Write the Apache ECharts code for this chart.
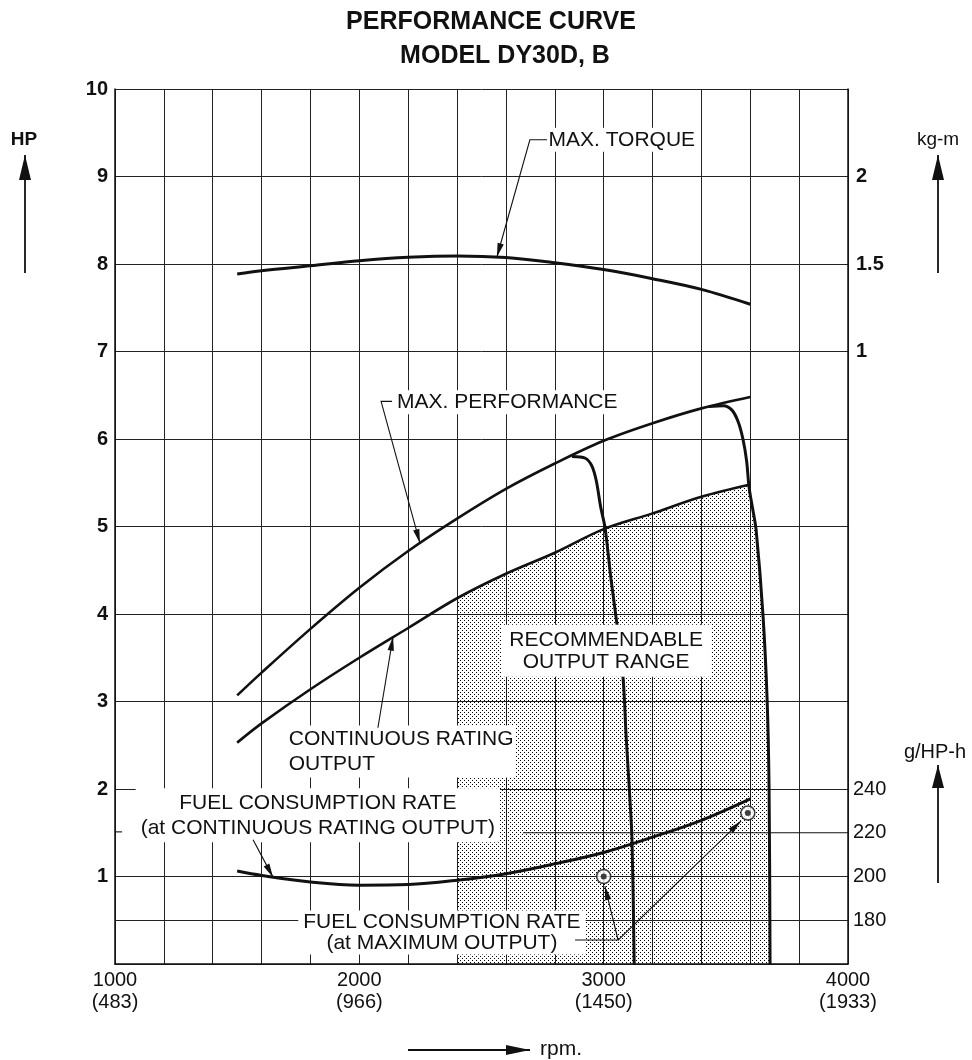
<!DOCTYPE html>
<html><head><meta charset="utf-8">
<script src="https://cdn.jsdelivr.net/npm/echarts@6/dist/echarts.min.js"></script>
<style>html,body{margin:0;padding:0;background:#fff}#c{width:972px;height:1060px}</style>
</head><body><div id="c"></div>
<script>
// ---------------- DATA ----------------
const rpm = [1500,1600,1800,2000,2200,2400,2600,2800,3000,3200,3400,3600];
const maxTorqueKgm = [1.443,1.462,1.49,1.518,1.538,1.546,1.537,1.507,1.468,1.416,1.355,1.27];
const maxPerfHP = [3.07,3.33,3.83,4.30,4.72,5.09,5.43,5.72,5.98,6.18,6.35,6.48];
const contHP = [2.53,2.75,3.14,3.50,3.84,4.18,4.46,4.70,4.97,5.15,5.34,5.48];
const fuelGHPh = [202.5,200.5,197.5,196.0,196.3,198.3,201.3,205.8,211.0,218.0,225.7,235.5];
const gov1Rpm = [2870,2925,2952,2970,2988,3006,3030,3055,3080,3092,3105,3116,3125];
const gov1HP  = [5.80,5.78,5.69,5.52,5.22,4.98,4.40,3.87,3.25,2.60,2.00,1.42,0];
const gov2Rpm = [3430,3490,3525,3550,3570,3585,3595,3610,3624,3652,3669,3677,3681];
const gov2HP  = [6.37,6.38,6.33,6.20,6.00,5.75,5.45,5.20,4.96,3.99,3.02,1.99,0];
const maxOutRpm = [3000,3590];
const maxOutG = [200,229];
const rangeStartRpm = 2400;
const xTickValues = [1000,2000,3000,4000];
const xTickSub = ['(483)','(966)','(1450)','(1933)'];
const hpTicks = [1,2,3,4,5,6,7,8,9,10];
const kgTicks = [1,1.5,2];
const gTicks = [180,200,220,240];

// ---------------- CHART ----------------
const chart = echarts.init(document.getElementById('c'));
const FF = '"Liberation Sans", Arial, Helvetica, sans-serif';
const INK = '#111';

const pc = document.createElement('canvas');
pc.width = 4; pc.height = 4;
const pg = pc.getContext('2d');
pg.fillStyle = '#000';
pg.fillRect(0,0,1,1); pg.fillRect(2,2,1,1);
const stipple = { image: pc, repeat: 'repeat' };

const zip = (a,b) => a.map((v,i)=>[v,b[i]]);
const near = (v, arr) => arr.some(t => Math.abs(t - v) < 1e-6);

// shaded "recommendable output range" polygon in data coords
function rangePolygon() {
  const pts = [];
  rpm.forEach((r,i)=>{ if (r >= rangeStartRpm) pts.push([r, contHP[i]]); });
  const topHP = pts[pts.length-1][1];
  gov2Rpm.forEach((r,i)=>{ if (gov2HP[i] < topHP) pts.push([r, gov2HP[i]]); });
  pts.push([rangeStartRpm, 0]);
  return pts;
}

const curveLine = (w) => ({ color: INK, width: w });

chart.setOption({
  animation: false,
  backgroundColor: '#fff',
  title: [
    { text: 'PERFORMANCE CURVE', left: 486, top: 5, textAlign: 'center',
      textStyle: { fontFamily: FF, fontWeight: 'bold', fontSize: 25, color: INK } },
    { text: 'MODEL DY30D, B', left: 500, top: 39, textAlign: 'center',
      textStyle: { fontFamily: FF, fontWeight: 'bold', fontSize: 25, color: INK } }
  ],
  grid: { left: 115, right: 124, top: 89, bottom: 96, containLabel: false, outerBoundsMode: 'none' },
  xAxis: {
    type: 'value', min: 1000, max: 4000, interval: 200,
    axisLine: { show: true, lineStyle: { color: INK, width: 1.5 } },
    axisTick: { show: false },
    splitLine: { show: true, lineStyle: { color: '#222', width: 1 } },
    axisLabel: {
      margin: 5, fontFamily: FF, fontSize: 20, lineHeight: 22, color: INK,
      formatter: v => { const i = xTickValues.indexOf(v); return i >= 0 ? v + '\n' + xTickSub[i] : ''; }
    }
  },
  yAxis: [
    { type: 'value', position: 'left', min: 0, max: 10, interval: 1,
      axisLine: { show: true, lineStyle: { color: INK, width: 1.5 } },
      axisTick: { show: false },
      splitLine: { show: true, lineStyle: { color: '#222', width: 1 } },
      axisLabel: { margin: 7, fontFamily: FF, fontSize: 20, fontWeight: 'bold', color: INK,
        formatter: v => near(v, hpTicks) ? String(v) : '' } },
    { type: 'value', position: 'right', min: -2.5, max: 2.5, interval: 0.5,
      axisLine: { show: true, lineStyle: { color: INK, width: 1.5 } },
      axisTick: { show: false }, splitLine: { show: false },
      axisLabel: { margin: 8, fontFamily: FF, fontSize: 20, fontWeight: 'bold', color: INK,
        formatter: v => near(v, kgTicks) ? String(Math.round(v*10)/10) : '' } },
    { type: 'value', position: 'right', min: 160, max: 560, interval: 20,
      axisLine: { show: false }, axisTick: { show: false }, splitLine: { show: false },
      axisLabel: { margin: 5, fontFamily: FF, fontSize: 20, color: INK,
        formatter: v => near(v, gTicks) ? String(Math.round(v)) : '' } }
  ],
  series: [
    { type: 'custom', name: 'Recommendable output range', xAxisIndex: 0, yAxisIndex: 0,
      data: [[rangeStartRpm, 0]], z: 1, silent: true,
      renderItem: (params, api) => ({
        type: 'polygon',
        shape: { points: rangePolygon().map(p => api.coord(p)) },
        style: { fill: stipple, stroke: null }
      }) },
    { type: 'line', name: 'Max. torque (kg-m)', yAxisIndex: 1, data: zip(rpm, maxTorqueKgm),
      smooth: 0.35, symbol: 'none', lineStyle: curveLine(3), z: 5 },
    { type: 'line', name: 'Max. performance (HP)', yAxisIndex: 0, data: zip(rpm, maxPerfHP),
      smooth: 0.35, symbol: 'none', lineStyle: curveLine(2.6), z: 5,
      markLine: { silent: true, symbol: 'none', label: { show: false },
        lineStyle: { color: '#222', width: 1, type: 'solid' }, data: [{ yAxis: 0.5 }] } },
    { type: 'line', name: 'Continuous rating output (HP)', yAxisIndex: 0, data: zip(rpm, contHP),
      smooth: 0.35, symbol: 'none', lineStyle: curveLine(2.6), z: 5 },
    { type: 'line', name: 'Governor (max)', yAxisIndex: 0, data: zip(gov1Rpm, gov1HP),
      smooth: 0.3, symbol: 'none', lineStyle: curveLine(3), z: 5 },
    { type: 'line', name: 'Governor (continuous)', yAxisIndex: 0, data: zip(gov2Rpm, gov2HP),
      smooth: 0.3, symbol: 'none', lineStyle: curveLine(3), z: 5 },
    { type: 'line', name: 'Fuel consumption rate (g/HP-h)', yAxisIndex: 2, data: zip(rpm, fuelGHPh),
      smooth: 0.35, symbol: 'none', lineStyle: curveLine(3), z: 5 },
    { type: 'scatter', name: 'Fuel at max output', yAxisIndex: 2, data: zip(maxOutRpm, maxOutG),
      symbol: 'circle', symbolSize: 14, z: 70,
      itemStyle: { color: '#fff', borderColor: INK, borderWidth: 1.6 } },
    { type: 'scatter', name: 'Fuel at max output dot', yAxisIndex: 2, data: zip(maxOutRpm, maxOutG),
      symbol: 'circle', symbolSize: 6, z: 71, itemStyle: { color: INK } }
  ]
});

// ---------------- ANNOTATIONS (data coordinates) ----------------
const labels = [
  { text: 'MAX. TORQUE', at: [2766, 9.42], align: 'left', lh: 22, pad: [1,2] },
  { text: 'MAX. PERFORMANCE', at: [2146, 6.42], align: 'left', lh: 22, pad: [1,2] },
  { text: 'CONTINUOUS RATING\nOUTPUT', at: [1703, 2.43], align: 'left', lh: 25, pad: [1,2] },
  { text: 'RECOMMENDABLE\nOUTPUT RANGE', at: [3010, 3.58], align: 'center', lh: 22, pad: [4,8] },
  { text: 'FUEL CONSUMPTION RATE\n(at CONTINUOUS RATING OUTPUT)', at: [1830, 1.70], align: 'center', lh: 25, pad: [2,5] },
  { text: 'FUEL CONSUMPTION RATE\n(at MAXIMUM OUTPUT)', at: [2338, 0.36], align: 'center', lh: 21, pad: [1,5] }
];
const leaders = [
  { pts: [[2768,9.42],[2698,9.42],[2563,8.08]], arrow: true, ax: 0 },
  { pts: [[2134,6.43],[2089,6.43],[2248,4.81]], arrow: true, ax: 0 },
  { pts: [[2076,2.70],[2138,3.74]], arrow: true, ax: 0 },
  { pts: [[1565,1.42],[1647,0.99]], arrow: true, ax: 0 },
  { pts: [[1000,1.51],[1029,1.51]], arrow: false, ax: 0 },
  { pts: [[2670,220],[4000,220]], arrow: false, ax: 2 },
  { pts: [[2883,0.274],[3059,0.274],[3005,0.89]], arrow: true, ax: 0 },
  { pts: [[3059,0.274],[3562,1.634]], arrow: true, ax: 0 }
];

function arrowHead(a, b, len, hw) {
  const dx = b[0]-a[0], dy = b[1]-a[1], d = Math.hypot(dx,dy) || 1;
  const ux = dx/d, uy = dy/d, bx = b[0]-ux*len, by = b[1]-uy*len;
  return [[b[0],b[1]],[bx - uy*hw, by + ux*hw],[bx + uy*hw, by - ux*hw]];
}

const gfx = [];
const toPx = (p, ax) => chart.convertToPixel({ xAxisIndex: 0, yAxisIndex: ax }, p);

labels.forEach(L => {
  const p = toPx(L.at, 0);
  gfx.push({ type: 'text', x: p[0], y: p[1], z: 80, silent: true,
    style: { text: L.text, font: '21px ' + FF, fill: INK,
      align: L.align, textAlign: L.align, verticalAlign: 'middle', textVerticalAlign: 'middle',
      lineHeight: L.lh, backgroundColor: '#fff', padding: L.pad } });
});
leaders.forEach(Ld => {
  const pts = Ld.pts.map(p => toPx(p, Ld.ax));
  gfx.push({ type: 'polyline', z: 90, silent: true, shape: { points: pts },
    style: { stroke: INK, lineWidth: 1.1, fill: null } });
  if (Ld.arrow) {
    gfx.push({ type: 'polygon', z: 91, silent: true,
      shape: { points: arrowHead(pts[pts.length-2], pts[pts.length-1], 14, 3.2) },
      style: { fill: INK, stroke: null } });
  }
});

// side unit labels and direction arrows (decoration outside plot)
const sideArrows = [
  { from: [25,273], to: [25,155], len: 25, hw: 6 },
  { from: [938,273], to: [938,155], len: 25, hw: 6 },
  { from: [938,883], to: [938,765], len: 23, hw: 6 },
  { from: [408,1050], to: [530,1050], len: 24, hw: 5 }
];
sideArrows.forEach(a => {
  gfx.push({ type: 'line', silent: true, shape: { x1: a.from[0], y1: a.from[1], x2: a.to[0], y2: a.to[1] },
    style: { stroke: INK, lineWidth: 1.8 } });
  gfx.push({ type: 'polygon', silent: true, shape: { points: arrowHead(a.from, a.to, a.len, a.hw) },
    style: { fill: INK } });
});
const sideTexts = [
  { text: 'HP', x: 24, y: 140, font: 'bold 19px ' + FF, align: 'center' },
  { text: 'kg-m', x: 938, y: 140, font: '19px ' + FF, align: 'center' },
  { text: 'g/HP-h', x: 935, y: 752, font: '20px ' + FF, align: 'center' },
  { text: 'rpm.', x: 540, y: 1049, font: '21px ' + FF, align: 'left' }
];
sideTexts.forEach(t => {
  gfx.push({ type: 'text', x: t.x, y: t.y, silent: true,
    style: { text: t.text, font: t.font, fill: INK, align: t.align, textAlign: t.align,
      verticalAlign: 'middle', textVerticalAlign: 'middle' } });
});

chart.setOption({ graphic: gfx });
</script>
</body></html>
